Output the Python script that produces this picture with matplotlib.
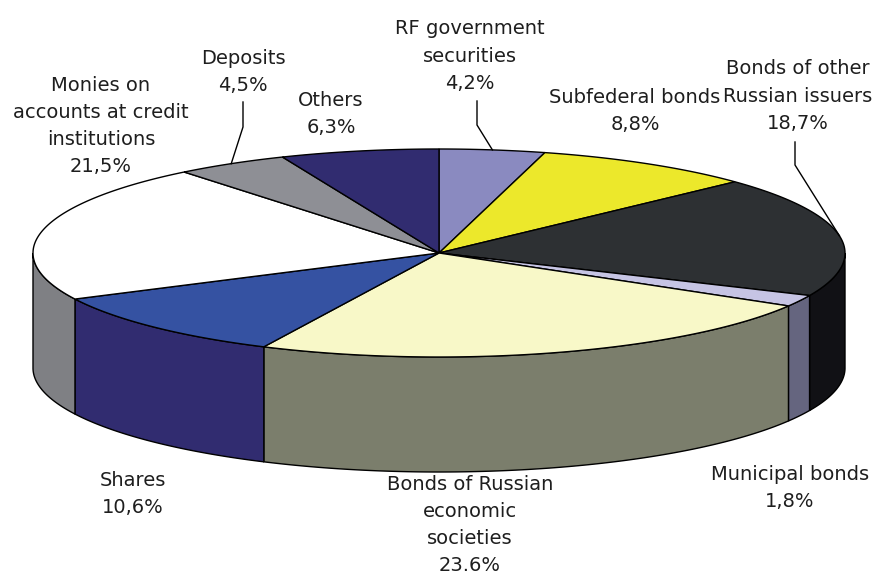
import numpy as np
import matplotlib.pyplot as plt

# Structure of investments, clockwise from 12 o'clock
categories = ["RF government\nsecurities", "Subfederal bonds", "Bonds of other\nRussian issuers",
              "Municipal bonds", "Bonds of Russian\neconomic\nsocieties", "Shares",
              "Monies on\naccounts at credit\ninstitutions", "Deposits", "Others"]
shares = [4.2, 8.8, 18.7, 1.8, 23.6, 10.6, 21.5, 4.5, 6.3]
share_labels = ["4,2%", "8,8%", "18,7%", "1,8%", "23.6%", "10,6%", "21,5%", "4,5%", "6,3%"]

top_colors = ["#8A8AC0", "#ECE82B", "#2D3033", "#C6C4E4", "#F8F8C8",
              "#3552A2", "#FFFFFF", "#8E8F95", "#312C70"]
side_colors = ["#5E5E8A", "#A8A41C", "#111115", "#65657F", "#7B7E6C",
               "#312C70", "#7F8084", "#5E5F64", "#1E1A48"]

# label block centres in pixels, and leader lines (x, top y, knee y)
label_pos = [(470, 56), (635, 111), (798, 96), (790, 488), (470, 525),
             (133, 494), (101, 126), (243, 72), (331, 114)]
leaders = {0: (477, 101, 125), 2: (795, 142, 165), 7: (243, 102, 127)}

# ellipse geometry of the disc (pixels)
cx, cy, rx, ry, depth = 439, 253, 406, 104, 115


def ellipse_pts(t0, t1, dy=0.0, n=120):
    t = np.radians(np.linspace(t0, t1, n))
    return cx + rx * np.cos(t), cy - ry * np.sin(t) + dy


fig = plt.figure(figsize=(8.74, 5.78), dpi=100)
ax = fig.add_axes([0, 0, 1, 1])
ax.set_xlim(0, 874)
ax.set_ylim(578, 0)
ax.axis("off")

cum = np.concatenate([[0], np.cumsum(shares)])
starts = 90 - 360 * cum[:-1] / 100
ends = 90 - 360 * cum[1:] / 100

# side walls on the front half of the disc (angles between -180 and 0)
for i in range(len(shares)):
    lo, hi = max(ends[i], -180), min(starts[i], 0)
    if hi <= lo:
        continue
    xt, yt = ellipse_pts(lo, hi)
    xb, yb = ellipse_pts(hi, lo, dy=depth)
    ax.fill(np.concatenate([xt, xb]), np.concatenate([yt, yb]),
            facecolor=side_colors[i], edgecolor="black", lw=1.0, zorder=1)

# top faces
for i in range(len(shares)):
    xa, ya = ellipse_pts(starts[i], ends[i])
    ax.fill(np.concatenate([[cx], xa]), np.concatenate([[cy], ya]),
            facecolor=top_colors[i], edgecolor="black", lw=1.0, zorder=2)

# labels
for i, (lx, ly) in enumerate(label_pos):
    ax.text(lx, ly, categories[i] + "\n" + share_labels[i], ha="center", va="center",
            fontsize=14, color="#1e1e1e", linespacing=1.55, zorder=3)

# leader lines to the slice middles
for i, (lx, y0, y1) in leaders.items():
    mid = (starts[i] + ends[i]) / 2
    ex, ey = ellipse_pts(mid, mid, n=1)
    ax.plot([lx, lx, ex[0]], [y0, y1, ey[0]], color="black", lw=1.0, zorder=3)

fig.savefig("out.png", dpi=100, facecolor="white")
